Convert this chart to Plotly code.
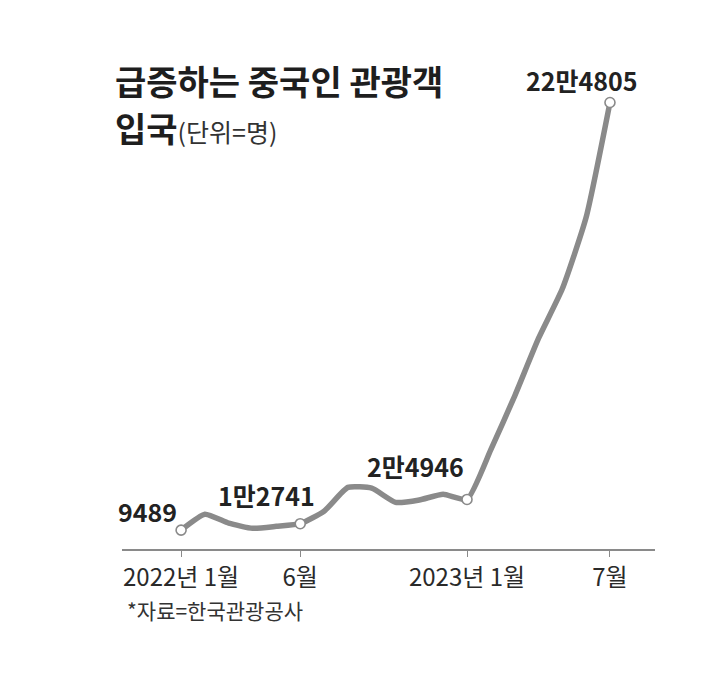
import plotly.graph_objects as go

months = ["2022-01", "2022-02", "2022-03", "2022-04", "2022-05", "2022-06", "2022-07",
          "2022-08", "2022-09", "2022-10", "2022-11", "2022-12", "2023-01", "2023-02",
          "2023-03", "2023-04", "2023-05", "2023-06", "2023-07"]
visitors = [9489, 17500, 13000, 10400, 11400, 12741, 19000, 31000, 30600, 23500,
            24700, 27600, 24946, 50000, 77000, 106000, 131000, 167000, 224805]
highlight_idx = [0, 5, 12, 18]
highlight_labels = ["9489", "1만2741", "2만4946", "22만4805"]
tick_idx = [0, 5, 12, 18]
tick_labels = ["2022년 1월", "6월", "2023년 1월", "7월"]

x = list(range(len(months)))
FONT = "Noto Sans CJK KR"
LINE = "#8a8a8a"

fig = go.Figure()
fig.add_trace(go.Scatter(
    x=x, y=visitors, mode="lines",
    line=dict(color=LINE, width=5.5, shape="spline", smoothing=0.5),
    hoverinfo="skip", showlegend=False))
fig.add_trace(go.Scatter(
    x=[x[i] for i in highlight_idx], y=[visitors[i] for i in highlight_idx],
    mode="markers",
    marker=dict(size=10, color="white", line=dict(color=LINE, width=1.6)),
    hoverinfo="skip", showlegend=False))

shifts = [(-34, 19), (-34, 29), (-52, 33), (-28, 22)]
annotations = []
for i, lab, (dx, dy) in zip(highlight_idx, highlight_labels, shifts):
    annotations.append(dict(
        x=x[i], y=visitors[i], xref="x", yref="y", text=f"<b>{lab}</b>",
        showarrow=False, xshift=dx, yshift=dy, xanchor="center", yanchor="middle",
        font=dict(family=FONT, size=25, color="#222222")))

annotations += [
    dict(x=-0.017, y=0.959, xref="paper", yref="paper", xanchor="left", yanchor="middle",
         text="<b>급증하는 중국인 관광객</b>", showarrow=False,
         font=dict(family=FONT, size=34, color="#1e1e1e")),
    dict(x=-0.017, y=0.861, xref="paper", yref="paper", xanchor="left", yanchor="middle",
         text="<b>입국</b><span style='font-size:25px;font-weight:normal;color:#333'>(단위=명)</span>",
         showarrow=False, font=dict(family=FONT, size=34, color="#1e1e1e")),
    dict(x=0.005, y=-0.125, xref="paper", yref="paper", xanchor="left", yanchor="middle",
         text="*자료=한국관광공사", showarrow=False,
         font=dict(family=FONT, size=21, color="#333333")),
]

fig.update_layout(
    width=723, height=681,
    margin=dict(l=114, r=76, t=52, b=140),
    paper_bgcolor="white", plot_bgcolor="white",
    annotations=annotations,
    xaxis=dict(range=[-2.48, 19.89], tickvals=tick_idx, ticktext=tick_labels,
               showgrid=False, zeroline=False, showline=True, linecolor="#8a8a8a",
               linewidth=1.5, ticks="outside", ticklen=6, tickcolor="#8a8a8a",
               tickfont=dict(family=FONT, size=24, color="#2a2a2a"), fixedrange=True),
    yaxis=dict(range=[0, 246200], visible=False, showgrid=False, zeroline=False,
               fixedrange=True),
)

fig.write_html("out.html")
